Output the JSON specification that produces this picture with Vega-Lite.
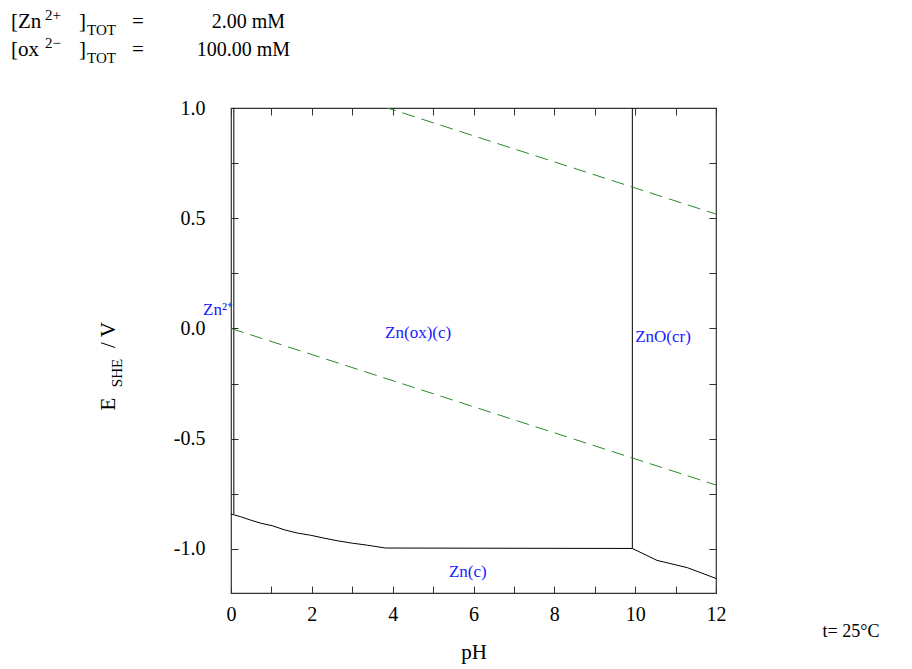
{
  "$schema": "https://vega.github.io/schema/vega-lite/v6.json",
  "width": 485,
  "height": 485,
  "autosize": {"type": "none"},
  "padding": {"left": 231, "top": 108, "right": 196, "bottom": 76},
  "background": "white",
  "config": {
    "view": {"stroke": "#333333", "strokeWidth": 1.2},
    "font": "Liberation Serif",
    "axis": {
      "domain": false,
      "grid": false,
      "tickColor": "#333333",
      "tickSize": -7,
      "labelFlush": false,
      "labelOverlap": false,
      "labelFont": "Liberation Serif",
      "labelFontSize": 20,
      "labelColor": "black",
      "titleFont": "Liberation Serif",
      "titleFontSize": 21,
      "titleFontWeight": "normal",
      "titleColor": "black"
    }
  },
  "datasets": {
    "bounds": [
      {"s": "a", "o": 1, "pH": 0.07, "E": 1.0},
      {"s": "a", "o": 2, "pH": 0.07, "E": -0.842},
      {"s": "b", "o": 1, "pH": 0.0, "E": -0.842},
      {"s": "b", "o": 2, "pH": 0.24, "E": -0.854},
      {"s": "b", "o": 3, "pH": 0.48, "E": -0.869},
      {"s": "b", "o": 4, "pH": 0.73, "E": -0.883},
      {"s": "b", "o": 5, "pH": 1.02, "E": -0.895},
      {"s": "b", "o": 6, "pH": 1.35, "E": -0.915},
      {"s": "b", "o": 7, "pH": 1.64, "E": -0.928},
      {"s": "b", "o": 8, "pH": 1.97, "E": -0.938},
      {"s": "b", "o": 9, "pH": 2.3, "E": -0.951},
      {"s": "b", "o": 10, "pH": 2.63, "E": -0.963},
      {"s": "b", "o": 11, "pH": 3.0, "E": -0.974},
      {"s": "b", "o": 12, "pH": 3.37, "E": -0.983},
      {"s": "b", "o": 13, "pH": 3.82, "E": -0.996},
      {"s": "b", "o": 14, "pH": 9.93, "E": -0.998},
      {"s": "c", "o": 1, "pH": 9.93, "E": 1.0},
      {"s": "c", "o": 2, "pH": 9.93, "E": -0.998},
      {"s": "d", "o": 1, "pH": 9.93, "E": -0.998},
      {"s": "d", "o": 2, "pH": 10.54, "E": -1.052},
      {"s": "d", "o": 3, "pH": 11.29, "E": -1.085},
      {"s": "d", "o": 4, "pH": 12.0, "E": -1.134}
    ],
    "water": [
      {"s": "O2", "pH": 0, "E": 1.229},
      {"s": "O2", "pH": 12, "E": 0.519},
      {"s": "H2", "pH": 0, "E": 0.0},
      {"s": "H2", "pH": 12, "E": -0.71}
    ],
    "species": [
      {"t": "Zn²⁺", "pH": -0.32, "E": 0.084},
      {"t": "Zn(ox)(c)", "pH": 4.63, "E": -0.021},
      {"t": "ZnO(cr)", "pH": 10.69, "E": -0.039},
      {"t": "Zn(c)", "pH": 5.86, "E": -1.105}
    ],
    "headL": [
      {"t": "[Zn", "pH": -5.443, "E": 1.39},
      {"t": "]", "pH": -3.76, "E": 1.39},
      {"t": "=", "pH": -2.449, "E": 1.39},
      {"t": "[ox", "pH": -5.443, "E": 1.263},
      {"t": "]", "pH": -3.76, "E": 1.263},
      {"t": "=", "pH": -2.449, "E": 1.263}
    ],
    "headR": [
      {"t": "2.00 mM", "pH": 1.336, "E": 1.39},
      {"t": "100.00 mM", "pH": 1.46, "E": 1.263}
    ],
    "headSmall": [
      {"t": "2+", "pH": -4.6, "E": 1.422},
      {"t": "TOT", "pH": -3.563, "E": 1.354},
      {"t": "2−", "pH": -4.6, "E": 1.295},
      {"t": "TOT", "pH": -3.563, "E": 1.227}
    ],
    "temp": [
      {"t": "t= 25°C", "pH": 15.34, "E": -1.377}
    ],
    "ytitle": [
      {"t": "E", "pH": -3.019, "E": -0.343},
      {"t": "/ V", "pH": -3.019, "E": -0.03}
    ],
    "ytitleSub": [
      {"t": "SHE", "pH": -2.821, "E": -0.202}
    ]
  },
  "layer": [
    {
      "data": {"name": "bounds"},
      "mark": {"type": "line", "color": "black", "strokeWidth": 1, "clip": true},
      "encoding": {
        "x": {
          "field": "pH", "type": "quantitative",
          "scale": {"domain": [0, 12], "nice": false, "zero": false},
          "axis": {
            "orient": "bottom",
            "title": "pH",
            "values": [0, 1, 2, 3, 4, 5, 6, 7, 8, 9, 10, 11, 12],
            "labelExpr": "datum.value % 2 === 0 ? datum.label : ''",
            "labelPadding": 18,
            "titlePadding": 17
          }
        },
        "y": {
          "field": "E", "type": "quantitative",
          "scale": {"domain": [-1.2, 1.0], "nice": false, "zero": false},
          "axis": {
            "orient": "left",
            "title": null,
            "values": [-1.0, -0.75, -0.5, -0.25, 0, 0.25, 0.5, 0.75, 1.0],
            "labelExpr": "abs(datum.value * 2 - round(datum.value * 2)) < 0.001 ? replace(format(datum.value, '.1f'), '−', '-') : ''",
            "labelPadding": 33
          }
        },
        "detail": {"field": "s"},
        "order": {"field": "o"}
      }
    },
    {
      "data": {"name": "water"},
      "mark": {"type": "line", "color": "#2a8a2a", "strokeWidth": 1, "strokeDash": [13, 7], "clip": true},
      "encoding": {
        "x": {
          "field": "pH", "type": "quantitative",
          "scale": {"domain": [0, 12], "nice": false, "zero": false},
          "axis": {
            "orient": "top", "title": null, "labels": false,
            "values": [0, 1, 2, 3, 4, 5, 6, 7, 8, 9, 10, 11, 12]
          }
        },
        "y": {
          "field": "E", "type": "quantitative",
          "scale": {"domain": [-1.2, 1.0], "nice": false, "zero": false},
          "axis": {
            "orient": "right", "title": null, "labels": false,
            "values": [-1.0, -0.75, -0.5, -0.25, 0, 0.25, 0.5, 0.75, 1.0]
          }
        },
        "detail": {"field": "s"}
      }
    },
    {
      "data": {"name": "species"},
      "mark": {"type": "text", "color": "#1a1aff", "font": "Liberation Serif", "fontSize": 17, "align": "center", "baseline": "middle"},
      "encoding": {
        "x": {"field": "pH", "type": "quantitative", "scale": {"domain": [0, 12], "nice": false, "zero": false}, "axis": null},
        "y": {"field": "E", "type": "quantitative", "scale": {"domain": [-1.2, 1.0], "nice": false, "zero": false}, "axis": null},
        "text": {"field": "t"}
      }
    },
    {
      "data": {"name": "headL"},
      "mark": {"type": "text", "color": "black", "font": "Liberation Serif", "fontSize": 21, "align": "left", "baseline": "middle"},
      "encoding": {
        "x": {"field": "pH", "type": "quantitative", "scale": {"domain": [0, 12], "nice": false, "zero": false}, "axis": null},
        "y": {"field": "E", "type": "quantitative", "scale": {"domain": [-1.2, 1.0], "nice": false, "zero": false}, "axis": null},
        "text": {"field": "t"}
      }
    },
    {
      "data": {"name": "headR"},
      "mark": {"type": "text", "color": "black", "font": "Liberation Serif", "fontSize": 20, "align": "right", "baseline": "middle"},
      "encoding": {
        "x": {"field": "pH", "type": "quantitative", "scale": {"domain": [0, 12], "nice": false, "zero": false}, "axis": null},
        "y": {"field": "E", "type": "quantitative", "scale": {"domain": [-1.2, 1.0], "nice": false, "zero": false}, "axis": null},
        "text": {"field": "t"}
      }
    },
    {
      "data": {"name": "headSmall"},
      "mark": {"type": "text", "color": "black", "font": "Liberation Serif", "fontSize": 15, "align": "left", "baseline": "middle"},
      "encoding": {
        "x": {"field": "pH", "type": "quantitative", "scale": {"domain": [0, 12], "nice": false, "zero": false}, "axis": null},
        "y": {"field": "E", "type": "quantitative", "scale": {"domain": [-1.2, 1.0], "nice": false, "zero": false}, "axis": null},
        "text": {"field": "t"}
      }
    },
    {
      "data": {"name": "temp"},
      "mark": {"type": "text", "color": "black", "font": "Liberation Serif", "fontSize": 18, "align": "center", "baseline": "middle"},
      "encoding": {
        "x": {"field": "pH", "type": "quantitative", "scale": {"domain": [0, 12], "nice": false, "zero": false}, "axis": null},
        "y": {"field": "E", "type": "quantitative", "scale": {"domain": [-1.2, 1.0], "nice": false, "zero": false}, "axis": null},
        "text": {"field": "t"}
      }
    },
    {
      "data": {"name": "ytitle"},
      "mark": {"type": "text", "color": "black", "font": "Liberation Serif", "fontSize": 21, "align": "center", "baseline": "middle", "angle": 270},
      "encoding": {
        "x": {"field": "pH", "type": "quantitative", "scale": {"domain": [0, 12], "nice": false, "zero": false}, "axis": null},
        "y": {"field": "E", "type": "quantitative", "scale": {"domain": [-1.2, 1.0], "nice": false, "zero": false}, "axis": null},
        "text": {"field": "t"}
      }
    },
    {
      "data": {"name": "ytitleSub"},
      "mark": {"type": "text", "color": "black", "font": "Liberation Serif", "fontSize": 15, "align": "center", "baseline": "middle", "angle": 270},
      "encoding": {
        "x": {"field": "pH", "type": "quantitative", "scale": {"domain": [0, 12], "nice": false, "zero": false}, "axis": null},
        "y": {"field": "E", "type": "quantitative", "scale": {"domain": [-1.2, 1.0], "nice": false, "zero": false}, "axis": null},
        "text": {"field": "t"}
      }
    }
  ],
  "resolve": {"axis": {"x": "independent", "y": "independent"}}
}
